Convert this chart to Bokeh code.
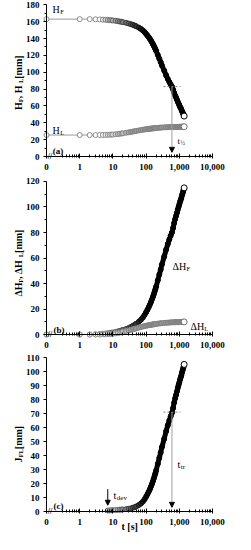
import math
from bokeh.plotting import figure
from bokeh.layouts import column
from bokeh.models import Label, Arrow, NormalHead, FixedTicker, ColumnDataSource
from bokeh.embed import file_html
from bokeh.resources import INLINE

# ---------------- data ----------------
t_s = [0, 1, 2, 3, 4, 5, 6, 7, 8, 9, 10, 12, 14, 16, 18, 20, 25, 30, 35, 40, 45, 50,
       60, 70, 80, 90, 100, 110, 120, 130, 140, 150, 160, 170, 180, 190, 200, 225, 250,
       275, 300, 350, 400, 450, 500, 550, 600, 650, 700, 750, 800, 850, 900, 950, 1000,
       1050, 1100, 1150, 1200, 1250, 1300, 1350, 1400]

H_F = [163, 163, 163, 162.8, 162.6, 162.4, 162.2, 162.0, 161.8, 161.6, 161.4, 161.0, 160.6,
       160.2, 159.8, 159.4, 158.6, 157.8, 157.0, 156.2, 155.4, 154.6, 153.0, 151.4, 149.6,
       147.6, 145.5, 143.5, 141.5, 139.5, 137.5, 135.5, 133.5, 131.5, 129.5, 127.5, 125.5,
       120.5, 116.0, 112.0, 108.0, 102.0, 96.5, 92.0, 88.5, 85.5, 83.0, 79.5, 75.5, 72.5,
       70.0, 67.5, 65.0, 63.0, 61.0, 59.0, 57.5, 56.0, 54.0, 52.5, 51.0, 49.5, 48.0]

H_L = [25.5, 25.5, 25.5, 25.5, 25.5, 25.6, 25.7, 25.8, 25.9, 26.0, 26.1, 26.4, 26.7, 27.0,
       27.3, 27.6, 28.2, 28.7, 29.2, 29.6, 30.0, 30.3, 30.9, 31.4, 31.8, 32.1, 32.4, 32.6,
       32.8, 33.0, 33.1, 33.3, 33.4, 33.5, 33.6, 33.7, 33.8, 34.0, 34.2, 34.3, 34.4, 34.6,
       34.7, 34.8, 34.9, 35.0, 35.0, 35.1, 35.1, 35.1, 35.2, 35.2, 35.2, 35.2, 35.3, 35.3,
       35.3, 35.3, 35.4, 35.4, 35.4, 35.4, 35.4]

dH_F = [0, 0, 0, 0.2, 0.4, 0.6, 0.8, 1.0, 1.2, 1.4, 1.6, 2.0, 2.4, 2.8, 3.2, 3.6, 4.4, 5.2,
        6.0, 6.8, 7.6, 8.4, 10.0, 11.6, 13.4, 15.4, 17.5, 19.5, 21.5, 23.5, 25.5, 27.5, 29.5,
        31.5, 33.5, 35.5, 37.5, 42.5, 47.0, 51.0, 55.0, 61.0, 66.5, 71.0, 74.5, 77.5, 80.0,
        83.5, 87.5, 90.5, 93.0, 95.5, 98.0, 100.0, 102.0, 104.0, 105.5, 107.0, 109.0, 110.5,
        112.0, 113.5, 115.0]

dH_L = [0, 0, 0, 0, 0, 0.1, 0.2, 0.3, 0.4, 0.5, 0.6, 0.9, 1.2, 1.5, 1.8, 2.1, 2.7, 3.2, 3.7,
        4.1, 4.5, 4.8, 5.4, 5.9, 6.3, 6.6, 6.9, 7.1, 7.3, 7.5, 7.6, 7.8, 7.9, 8.0, 8.1, 8.2,
        8.3, 8.5, 8.7, 8.8, 8.9, 9.1, 9.2, 9.3, 9.4, 9.5, 9.5, 9.6, 9.6, 9.6, 9.7, 9.7, 9.7,
        9.7, 9.8, 9.8, 9.8, 9.8, 9.9, 9.9, 9.9, 9.9, 9.9]

t_J = [7, 8, 9, 10, 12, 14, 16, 18, 20, 25, 30, 35, 40, 45, 50, 60, 70, 80, 90, 100, 110,
       120, 130, 140, 150, 160, 170, 180, 190, 200, 225, 250, 275, 300, 350, 400, 450, 500,
       550, 600, 650, 700, 750, 800, 850, 900, 950, 1000, 1050, 1100, 1150, 1200, 1250,
       1300, 1350, 1400]
J_FL = [0.7, 0.8, 0.9, 1.0, 1.1, 1.2, 1.3, 1.4, 1.5, 1.7, 2.0, 2.3, 2.7, 3.1, 3.6, 4.6, 5.7,
        7.1, 8.8, 10.6, 12.4, 14.2, 16.0, 17.9, 19.7, 21.6, 23.5, 25.4, 27.3, 29.2, 34.0,
        38.3, 42.2, 46.1, 51.9, 57.3, 61.7, 65.1, 68.0, 70.5, 73.9, 77.9, 80.9, 83.3, 85.8,
        88.3, 90.3, 92.2, 94.2, 95.7, 97.2, 99.1, 100.6, 102.1, 103.6, 105.1]

x_ticks = [0.1, 1, 10, 100, 1000, 10000]
x_tick_labels = ["0", "1", "10", "100", "1,000", "10,000"]
x_minor = [0.3, 0.4, 0.5, 0.6, 0.7, 0.8, 0.9] + [m * 10 ** k for k in range(0, 4) for m in range(2, 10)]

t_half, H_half = 600, 83
t_tr, J_tr = 600, 71
t_dev = 7

ZERO_POS = 0.1      # where t = 0 is drawn on the broken log axis
SERIF = "Liberation Serif"
X_RANGE = (0.00411, 49300)   # frame covers the whole figure; axes are pinned inside

W = {"H": 0.778, "F": 0.611, "L": 0.667, "t": 0.333, "d": 0.556, "e": 0.444, "v": 0.5,
     "r": 0.444, "Δ": 0.612, " ": 0.25, ",": 0.25, "[": 0.333, "]": 0.333, "m": 0.833,
     "J": 0.5, "½": 0.75, "s": 0.389}


def tw(s, size):
    return sum(W.get(c, 0.5) for c in s) * size


def rich(p, x, y, parts, vertical=False, bold=False, center=False):
    total = sum(tw(txt, sz) for txt, sz, _ in parts)
    off = -total / 2 if center else 0.0
    for txt, sz, shift in parts:
        kw = dict(x=x, y=y, text=txt, text_font=SERIF, text_font_size=f"{sz}px",
                  text_font_style="bold" if bold else "normal", text_color="black",
                  text_align="left", text_baseline="alphabetic")
        if not vertical:
            lab = Label(x_offset=off, y_offset=-shift, **kw)
        else:
            lab = Label(x_offset=shift, y_offset=off, angle=math.pi / 2, **kw)
        p.add_layout(lab)
        off += tw(txt, sz)


def plain(p, x, y, text, size=9, bold=True):
    p.add_layout(Label(x=x, y=y, text=text, text_font=SERIF, text_font_size=f"{size}px",
                       text_font_style="bold" if bold else "normal", text_align="left",
                       text_baseline="alphabetic", text_color="black"))


def gray(v):
    v = int(round(max(0, min(255, v))))
    return "#%02x%02x%02x" % (v, v, v)


def frac(t, lo, hi):
    if t <= 0:
        return 0.0
    s = (math.log10(t) - math.log10(lo)) / (math.log10(hi) - math.log10(lo))
    return max(0.0, min(1.0, s))


def make_fig(h, yr, ybounds, yticks, yminor):
    p = figure(width=235, height=h, x_axis_type="log", x_range=X_RANGE, y_range=yr,
               output_backend="svg", toolbar_location=None,
               min_border_left=0, min_border_right=0, min_border_top=0, min_border_bottom=0)
    p.outline_line_color = None
    p.grid.visible = False
    p.background_fill_color = "white"
    xa = p.xaxis[0]
    xa.fixed_location = 0
    xa.bounds = (0.1, 10000)
    xa.ticker = FixedTicker(ticks=x_ticks, minor_ticks=x_minor)
    xa.major_label_overrides = {k: v for k, v in zip(x_ticks, x_tick_labels)}
    xa.major_tick_in = 3
    xa.major_tick_out = 2
    xa.minor_tick_in = 2
    xa.minor_tick_out = 1
    xa.major_label_standoff = 5
    ya = p.yaxis[0]
    ya.fixed_location = ZERO_POS
    ya.bounds = ybounds
    ya.ticker = FixedTicker(ticks=yticks, minor_ticks=yminor)
    ya.major_tick_in = 0
    ya.major_tick_out = 3
    ya.minor_tick_in = 0
    ya.minor_tick_out = 2
    ya.major_label_standoff = 4
    for ax in (xa, ya):
        ax.axis_line_color = "black"
        ax.major_tick_line_color = "black"
        ax.minor_tick_line_color = "black"
        ax.major_label_text_font = SERIF
        ax.major_label_text_font_style = "bold"
        ax.major_label_text_font_size = "9px"
        ax.major_label_text_color = "black"
    # axis break mark
    p.add_layout(Label(x=0.128, y=0, text="//", text_font=SERIF, text_font_size="8px",
                       text_font_style="bold", text_align="center", text_baseline="middle",
                       text_color="black"))
    return p


def series(p, t, y, fills, lines, band_from=None, band_color="black", band_width=5,
           line_col="#9a9a9a"):
    x = [ZERO_POS if v == 0 else v for v in t]
    sizes = [5] * (len(x) - 1) + [6]
    src = ColumnDataSource(dict(x=x, y=y, fc=fills, lc=lines, sz=sizes))
    p.line("x", "y", source=src, line_color=line_col, line_width=1)
    if band_from is not None:
        bx = [a for a, tv in zip(x, t) if tv >= band_from]
        by = [b for b, tv in zip(y, t) if tv >= band_from]
        p.line(bx, by, line_color=band_color, line_width=band_width, line_cap="round",
               line_join="round")
    p.scatter("x", "y", source=src, size="sz", fill_color="fc", line_color="lc", line_width=1)


def dark_colors(t, lo, hi, f0=255, l0=140):
    fc = [gray(f0 * (1 - frac(v, lo, hi))) for v in t]
    lc = [gray(l0 * (1 - frac(v, lo, hi))) for v in t]
    fc[-1] = "#ffffff"
    lc[-1] = "#000000"
    return fc, lc


def light_colors(t, lo, hi):
    fc = [gray(255 - 100 * frac(v, lo, hi)) for v in t]
    lc = [gray(140 - 10 * frac(v, lo, hi)) for v in t]
    fc[-1] = "#ffffff"
    lc[-1] = "#707070"
    return fc, lc


def px_to_t(dpx):
    # shift along the log axis by a number of pixels (33.2 px per decade)
    return 10 ** (dpx / 33.2)


YLAB_X = 0.01386

# ---------------- panel (a) ----------------
pa = make_fig(175, (-22.5, 185.1), (0, 180), list(range(0, 181, 20)), list(range(10, 180, 20)))
fc, lc = light_colors(t_s, 5, 40)
series(pa, t_s, H_L, fc, lc, band_from=25, band_color="#9c9c9c", band_width=4)
fc, lc = dark_colors(t_s, 4, 100)
series(pa, t_s, H_F, fc, lc, band_from=60)
pa.line([t_half / px_to_t(8.5), t_half * px_to_t(8.5)], [H_half, H_half],
        line_color="#808080", line_width=1, line_dash="2 2")
pa.add_layout(Arrow(x_start=t_half, y_start=H_half, x_end=t_half, y_end=5,
                    line_color="#a0a0a0", line_width=1,
                    end=NormalHead(size=5, fill_color="black", line_color="black")))
rich(pa, 0.152, 175, [("H", 10, 0), ("F", 6.5, 2)])
rich(pa, 0.152, 31, [("H", 10, 0), ("L", 6.5, 2)])
plain(pa, 0.155, 6.5, "(a)")
rich(pa, 883, 19, [("t", 9, 0), ("½", 6, 2)])
rich(pa, YLAB_X, 89, [("H", 10, 0), ("F", 6.5, 2), (" , H", 10, 0), ("L", 6.5, 2),
                      (" [mm]", 10, 0)], vertical=True, bold=True, center=True)

# ---------------- panel (b) ----------------
pb = make_fig(177, (-14.1, 124.7), (0, 120), list(range(0, 121, 20)), list(range(10, 120, 20)))
fc, lc = dark_colors(t_s, 4, 100)
series(pb, t_s, dH_F, fc, lc, band_from=60)
fc, lc = light_colors(t_s, 5, 40)
series(pb, t_s, dH_L, fc, lc, band_from=25, band_color="#9c9c9c", band_width=4)
rich(pb, 623, 53.7, [("ΔH", 10, 0), ("F", 6.5, 2)])
rich(pb, 2170, 6.3, [("ΔH", 10, 0), ("L", 6.5, 2)])
plain(pb, 0.162, 3.9, "(b)")
rich(pb, YLAB_X, 57, [("ΔH", 10, 0), ("F", 6.5, 2), (" , ΔH", 10, 0), ("L", 6.5, 2),
                      (" [mm]", 10, 0)], vertical=True, bold=True, center=True)

# ---------------- panel (c) ----------------
pc = make_fig(182, (-16.4, 113.6), (0, 110), list(range(0, 111, 10)), [])
fcj = [gray(200 * (1 - frac(v, 12, 100))) for v in t_J]
lcj = [gray(110 * (1 - frac(v, 12, 100))) for v in t_J]
fcj[-1] = "#ffffff"
lcj[-1] = "#000000"
series(pc, t_J, J_FL, fcj, lcj, band_from=50)
pc.line([t_tr / px_to_t(8.5), t_tr * px_to_t(8.5)], [J_tr, J_tr],
        line_color="#808080", line_width=1, line_dash="2 2")
pc.add_layout(Arrow(x_start=t_tr, y_start=J_tr, x_end=t_tr, y_end=3,
                    line_color="#a0a0a0", line_width=1,
                    end=NormalHead(size=5, fill_color="black", line_color="black")))
pc.add_layout(Arrow(x_start=t_dev, y_start=16, x_end=t_dev, y_end=4.5,
                    line_color="black", line_width=1,
                    end=NormalHead(size=5, fill_color="black", line_color="black")))
rich(pc, 10.4, 11.4, [("t", 10, 0), ("dev", 7, 2)])
rich(pc, 883, 33.6, [("t", 10, 0), ("tr", 7, 2)])
plain(pc, 0.162, 4.3, "(c)")
rich(pc, YLAB_X, 49, [("J", 10, 0), ("FL", 6.5, 2), (" [mm]", 10, 0)], vertical=True,
     bold=True, center=True)
plain(pc, 18.2, -10.8, "t [s]", size=10)

layout = column(pa, pb, pc, spacing=0)
open("out.html", "w").write(file_html(layout, INLINE))
